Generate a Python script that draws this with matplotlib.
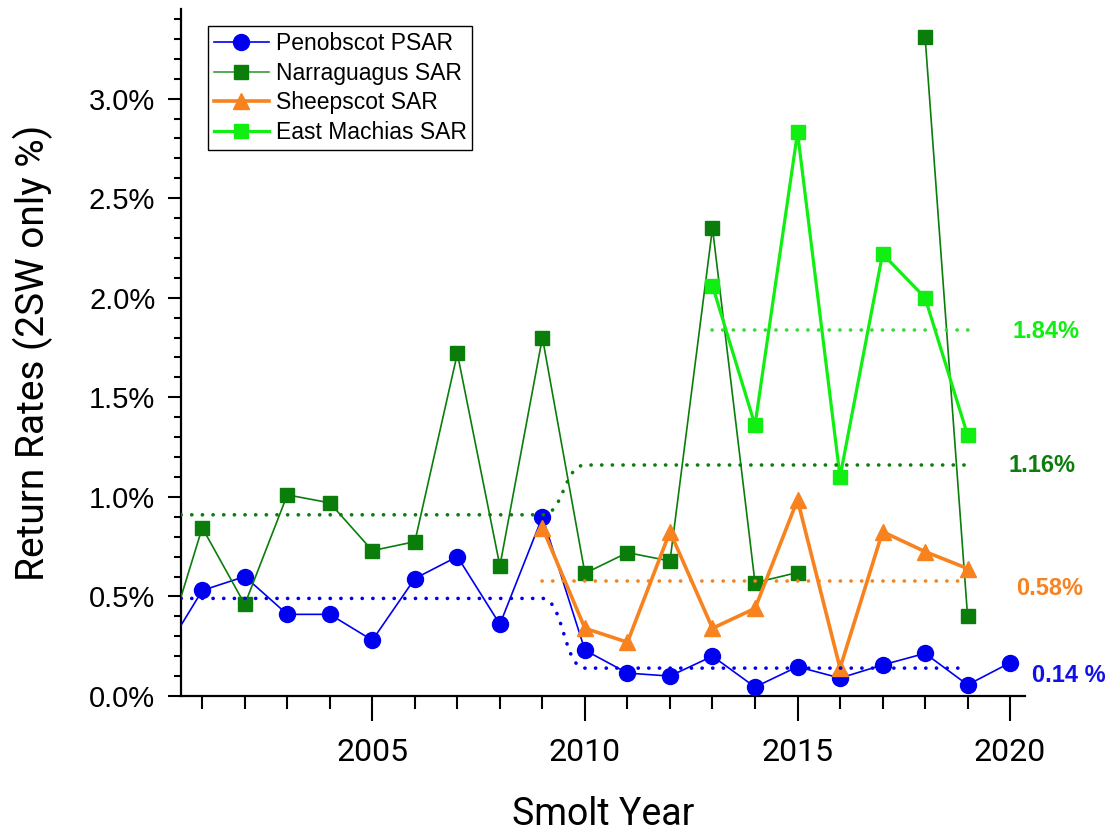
import numpy as np
import matplotlib
matplotlib.use("Agg")
import matplotlib.pyplot as plt
from matplotlib.path import Path
from matplotlib.patches import PathPatch
from matplotlib.ticker import MultipleLocator, FuncFormatter

# ---- data (return rates, %) ----
years = list(range(2000, 2021))
penobscot = [0.18, 0.53, 0.60, 0.41, 0.41, 0.28, 0.59, 0.70, 0.36, 0.90,
             0.23, 0.115, 0.10, 0.20, 0.045, 0.147, 0.09, 0.156, 0.214, 0.056, 0.167]
narraguagus = [0.15, 0.845, 0.46, 1.01, 0.97, 0.73, 0.775, 1.72, 0.653, 1.80,
               0.616, 0.72, 0.678, 2.35, 0.569, 0.62, np.nan, np.nan, 3.31, 0.40, np.nan]
sheep_years = list(range(2009, 2020))
sheepscot = [0.845, 0.34, 0.27, 0.825, 0.34, 0.44, 0.985, 0.14, 0.825, 0.725, 0.64]
em_years = list(range(2013, 2020))
east_machias = [2.06, 1.36, 2.83, 1.10, 2.22, 2.00, 1.31]

# period means
pen_mean = (0.49, 0.14)       # 2000-2009, 2010-2019
narr_mean = (0.91, 1.16)      # 2000-2009, 2010-2019
sheep_mean = 0.58             # 2009-2019
em_mean = 1.84                # 2013-2019
mean_labels = ["1.84%", "1.16%", "0.58%", "0.14 %"]

BLUE = "#0000F0"
DKGREEN = "#0A7D0A"
ORANGE = "#F7821E"
LTGREEN = "#11EE11"

fig = plt.figure(figsize=(11.11, 8.38), dpi=100)
ax = fig.add_axes([181/1111, 1-696/838, (1025-181)/1111, (696-9)/838])

l1, = ax.plot(years, penobscot, color=BLUE, lw=1.2, marker="o", ms=11.5,
              mec=BLUE, mfc=BLUE, label="Penobscot PSAR", zorder=3)
l2, = ax.plot(years, narraguagus, color=DKGREEN, lw=1.2, marker="s", ms=9.5,
              mec=DKGREEN, mfc=DKGREEN, label="Narraguagus SAR", zorder=3)
l3, = ax.plot(sheep_years, sheepscot, color=ORANGE, lw=2.6, marker="^", ms=12,
              mec=ORANGE, mfc=ORANGE, label="Sheepscot SAR", zorder=4)
l4, = ax.plot(em_years, east_machias, color=LTGREEN, lw=2.3, marker="s", ms=9.5,
              mec=LTGREEN, mfc=LTGREEN, label="East Machias SAR", zorder=4)

DOTS = (0, (0.05, 2.9))
dot_style = dict(fill=False, lw=2.6, linestyle=DOTS, capstyle="round", zorder=5)


def step_path(x0, x_step, x1, a, b):
    """Flat at a, smooth S-shaped change to b over one year, then flat at b."""
    verts = [(x0, a), (x_step, a),
             (x_step + 0.5, a), (x_step + 0.5, b), (x_step + 1, b),
             (x1, b)]
    codes = [Path.MOVETO, Path.LINETO,
             Path.CURVE4, Path.CURVE4, Path.CURVE4,
             Path.LINETO]
    return Path(verts, codes)


ax.add_patch(PathPatch(step_path(2000, 2009, 2019, *pen_mean), edgecolor=BLUE, **dot_style))
ax.add_patch(PathPatch(step_path(2000, 2009, 2019, *narr_mean), edgecolor=DKGREEN, **dot_style))
ax.plot([2009, 2019], [sheep_mean, sheep_mean], color=ORANGE, lw=2.6,
        linestyle=DOTS, dash_capstyle="round", zorder=5)
ax.plot([2013, 2019], [em_mean, em_mean], color="#33DD33", lw=2.6,
        linestyle=DOTS, dash_capstyle="round", zorder=5)

# mean labels on the right
lab_font = dict(family="Liberation Sans", weight="bold", fontsize=17,
                ha="center", va="center", clip_on=False)
ax.text(2020.84, em_mean - 0.01, mean_labels[0], color=LTGREEN, **lab_font)
ax.text(2020.76, narr_mean[1], mean_labels[1], color=DKGREEN, **lab_font)
ax.text(2020.93, sheep_mean - 0.04, mean_labels[2], color=ORANGE, **lab_font)
ax.text(2021.38, pen_mean[1] - 0.035, mean_labels[3], color="#1010E8", **lab_font)

ax.set_xlim(2000.5, 2020.35)
ax.set_ylim(0, 3.45)

for s in ("top", "right"):
    ax.spines[s].set_visible(False)
for s in ("left", "bottom"):
    ax.spines[s].set_linewidth(1.6)

ax.xaxis.set_major_locator(MultipleLocator(5))
ax.xaxis.set_minor_locator(MultipleLocator(1))
ax.yaxis.set_major_locator(MultipleLocator(0.5))
ax.yaxis.set_minor_locator(MultipleLocator(0.1))
ax.yaxis.set_major_formatter(FuncFormatter(lambda v, p: f"{v:.1f}%"))

ax.tick_params(axis="x", which="major", direction="out", length=18, width=1.5, pad=12)
ax.tick_params(axis="x", which="minor", direction="out", length=9.5, width=1.5)
ax.tick_params(axis="y", which="major", direction="out", length=9.5, width=1.5, pad=9)
ax.tick_params(axis="y", which="minor", direction="out", length=5, width=1.5)

for t in ax.get_xticklabels():
    t.set_fontfamily("Roboto")
    t.set_fontsize(23)
for t in ax.get_yticklabels():
    t.set_fontfamily("Liberation Sans")
    t.set_fontsize(21)

ax.set_xlabel("Smolt Year", family="Roboto", fontsize=27, labelpad=21)
ax.set_ylabel("Return Rates (2SW only %)", family="Roboto", fontsize=28, labelpad=26)

leg = ax.legend(handles=[l1, l2, l3, l4], loc="upper left",
                bbox_to_anchor=(208/1111, 1-26/838), bbox_transform=fig.transFigure,
                borderaxespad=0, prop=dict(family="Liberation Sans", size=16.5),
                handlelength=2.4, handletextpad=0.3, labelspacing=0.3,
                borderpad=0.25, fancybox=False, framealpha=1, edgecolor="black")
leg.get_frame().set_linewidth(1.0)
l2_leg = leg.get_lines()[1]
l2_leg.set_color("#3A9A3A")
l2_leg.set_markerfacecolor(DKGREEN)
l2_leg.set_markeredgecolor(DKGREEN)

fig.savefig("out.png", dpi=100)
